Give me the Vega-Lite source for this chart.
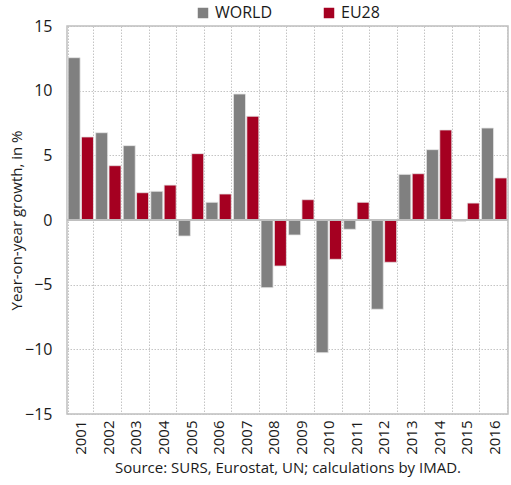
{
  "$schema": "https://vega.github.io/schema/vega-lite/v6.json",
  "width": 441,
  "height": 388,
  "autosize": {"type": "none"},
  "padding": {"left": 67, "top": 26, "right": 3, "bottom": 71},
  "background": "white",
  "config": {
    "font": "Open Sans",
    "view": {"stroke": "#bfbfbf", "strokeWidth": 1.5},
    "axis": {"labelFont": "Open Sans", "titleFont": "Open Sans", "labelColor": "#1a1a1a", "titleColor": "#1a1a1a"}
  },
  "data": {
    "values": [
      {"year": "2001", "series": "WORLD", "value": 12.55},
      {"year": "2001", "series": "EU28", "value": 6.42},
      {"year": "2002", "series": "WORLD", "value": 6.75},
      {"year": "2002", "series": "EU28", "value": 4.2},
      {"year": "2003", "series": "WORLD", "value": 5.75},
      {"year": "2003", "series": "EU28", "value": 2.11},
      {"year": "2004", "series": "WORLD", "value": 2.22},
      {"year": "2004", "series": "EU28", "value": 2.7},
      {"year": "2005", "series": "WORLD", "value": -1.24},
      {"year": "2005", "series": "EU28", "value": 5.13},
      {"year": "2006", "series": "WORLD", "value": 1.37},
      {"year": "2006", "series": "EU28", "value": 2.01},
      {"year": "2007", "series": "WORLD", "value": 9.74},
      {"year": "2007", "series": "EU28", "value": 8.02},
      {"year": "2008", "series": "WORLD", "value": -5.23},
      {"year": "2008", "series": "EU28", "value": -3.56},
      {"year": "2009", "series": "WORLD", "value": -1.16},
      {"year": "2009", "series": "EU28", "value": 1.57},
      {"year": "2010", "series": "WORLD", "value": -10.26},
      {"year": "2010", "series": "EU28", "value": -3.04},
      {"year": "2011", "series": "WORLD", "value": -0.72},
      {"year": "2011", "series": "EU28", "value": 1.37},
      {"year": "2012", "series": "WORLD", "value": -6.9},
      {"year": "2012", "series": "EU28", "value": -3.27},
      {"year": "2013", "series": "WORLD", "value": 3.53},
      {"year": "2013", "series": "EU28", "value": 3.58},
      {"year": "2014", "series": "WORLD", "value": 5.44},
      {"year": "2014", "series": "EU28", "value": 6.96},
      {"year": "2015", "series": "WORLD", "value": -0.1},
      {"year": "2015", "series": "EU28", "value": 1.31},
      {"year": "2016", "series": "WORLD", "value": 7.11},
      {"year": "2016", "series": "EU28", "value": 3.25}
    ]
  },
  "layer": [
    {
      "mark": {"type": "bar", "stroke": "#e6e6e6", "strokeWidth": 0.8},
      "encoding": {
        "x": {
          "field": "year", "type": "nominal",
          "scale": {"paddingInner": 0.08, "paddingOuter": 0.04},
          "axis": {
            "title": "Source: SURS, Eurostat, UN; calculations by IMAD.",
            "titleFontSize": 15, "titleFontWeight": "normal", "titlePadding": 6,
            "labelAngle": -90, "labelFontSize": 15, "labelPadding": 6,
            "ticks": false, "domain": false,
            "grid": true, "tickBand": "extent",
            "gridColor": "#c4c4c4", "gridDash": [1.5, 1.5], "gridWidth": 1
          }
        },
        "xOffset": {
          "field": "series", "type": "nominal",
          "sort": ["WORLD", "EU28"],
          "scale": {"paddingInner": 0.1}
        },
        "y": {
          "field": "value", "type": "quantitative",
          "scale": {"domain": [-15, 15], "nice": false, "zero": false},
          "axis": {
            "title": "Year-on-year growth, in %",
            "titleFontSize": 15, "titleFontWeight": "normal", "titlePadding": 0,
            "values": [-15, -10, -5, 0, 5, 10, 15],
            "labelFontSize": 16, "labelPadding": 15,
            "ticks": false, "domain": false,
            "grid": true, "gridColor": "#c4c4c4", "gridDash": [1.5, 1.5], "gridWidth": 1
          }
        },
        "color": {
          "field": "series", "type": "nominal",
          "sort": ["WORLD", "EU28"],
          "scale": {"domain": ["WORLD", "EU28"], "range": ["#808080", "#a50021"]},
          "legend": {
            "title": null,
            "orient": "none",
            "legendX": 128,
            "legendY": -21,
            "direction": "horizontal",
            "symbolType": "square",
            "symbolSize": 110,
            "symbolStrokeWidth": 0,
            "labelFontSize": 16,
            "labelFont": "Open Sans",
            "labelColor": "#1a1a1a",
            "columnPadding": 48
          }
        }
      }
    },
    {
      "mark": {"type": "rule", "color": "#bfbfbf", "strokeWidth": 1.5},
      "encoding": {"y": {"datum": 0}}
    }
  ]
}
